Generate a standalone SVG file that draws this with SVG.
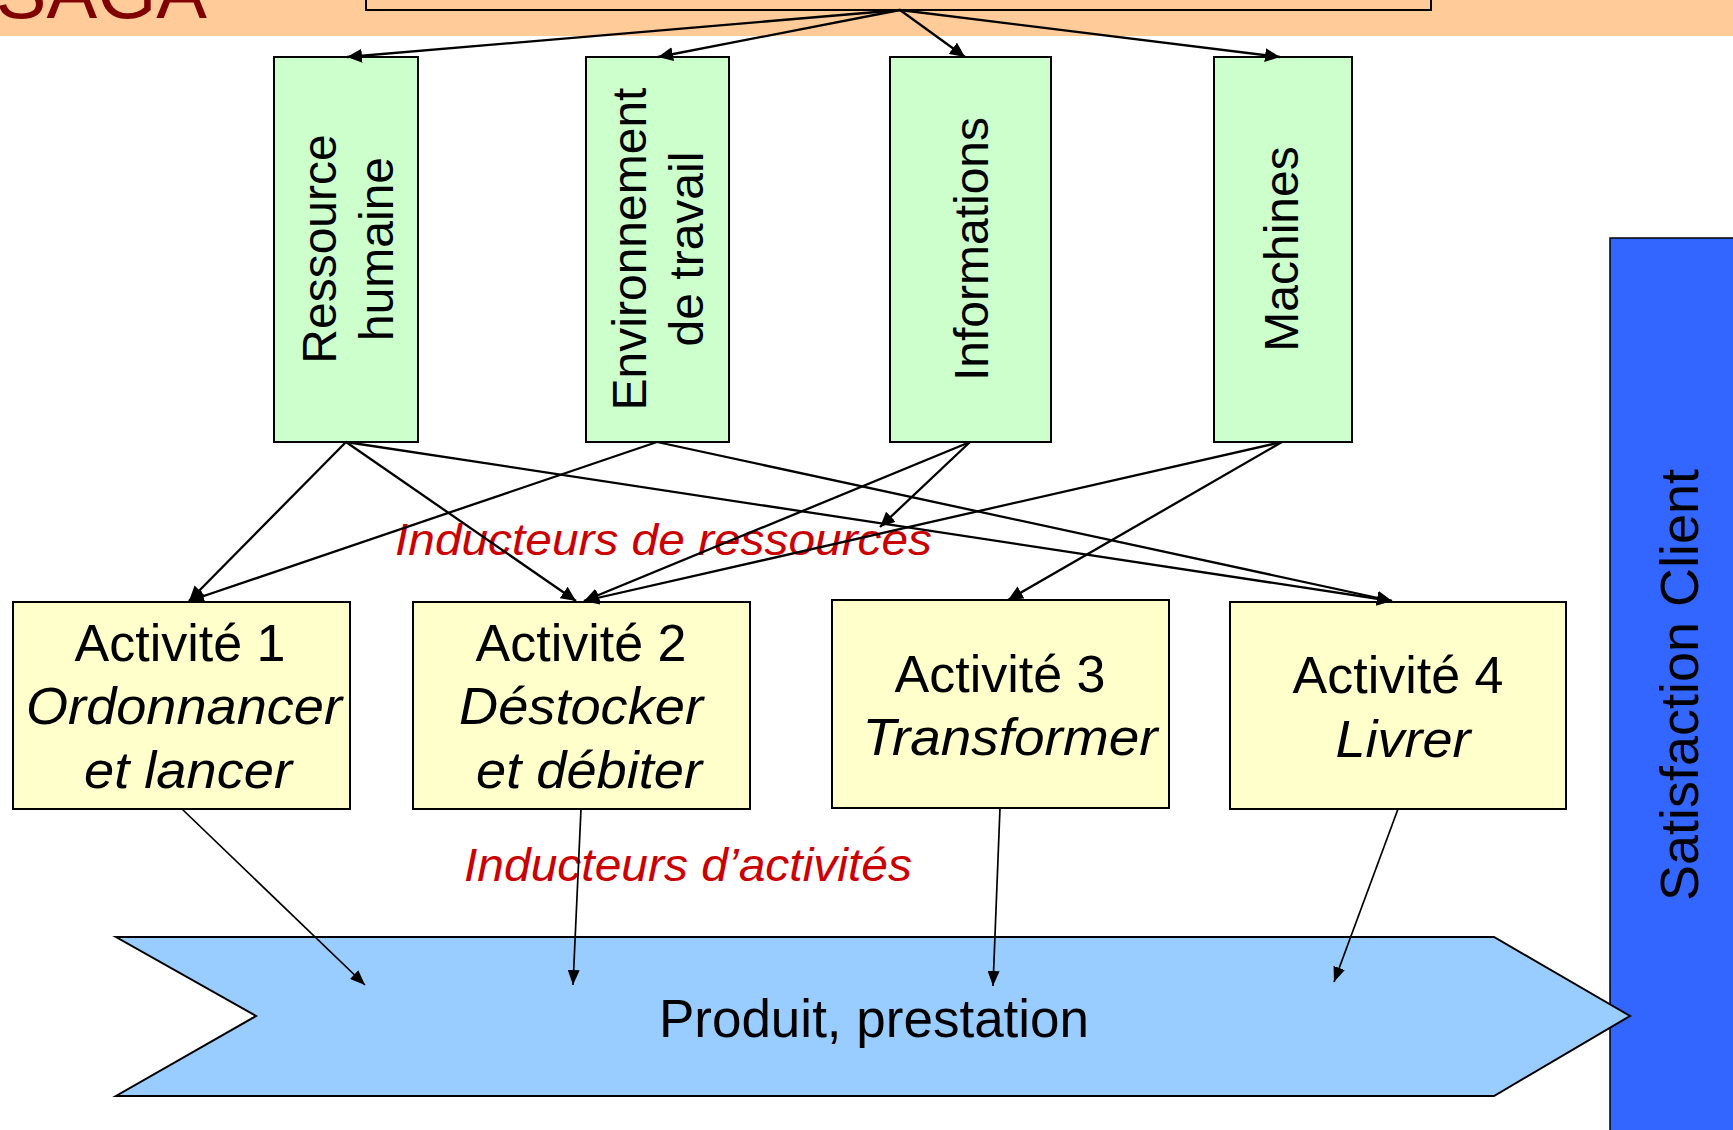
<svg xmlns="http://www.w3.org/2000/svg" width="1733" height="1130" viewBox="0 0 1733 1130">
<style>
.t{font-family:"Liberation Sans",Arial,sans-serif;fill:#000}
.res rect{fill:#ccffcc;stroke:#000;stroke-width:2}
.res text{font-size:48px;text-anchor:middle}
.act rect{fill:#ffffcc;stroke:#000;stroke-width:2}
.act text{font-size:52px;text-anchor:middle}
.it{font-style:italic}
.red{fill:#cc0000;font-style:italic}
.c1{stroke:#000;stroke-width:2.3;fill:none;marker-end:url(#ah)}
.c2{stroke:#000;stroke-width:1.7;fill:none;marker-end:url(#ah2)}
</style>
<defs>
<marker id="ah" markerUnits="userSpaceOnUse" markerWidth="16" markerHeight="14" refX="15" refY="7" orient="auto">
<path d="M0,0 L15,7 L0,14 z" fill="#000"/>
</marker>
<marker id="ah2" markerUnits="userSpaceOnUse" markerWidth="16" markerHeight="12" refX="15" refY="6" orient="auto">
<path d="M0,0 L15,6 L0,12 z" fill="#000"/>
</marker>
</defs>
<rect x="0" y="0" width="1733" height="1130" fill="#fff"/>
<g id="header">
<rect x="0" y="0" width="1733" height="36" fill="#ffcc99"/>
<text class="t" x="207" y="18" font-size="76" text-anchor="end" style="fill:#800000">SAGA</text>
<rect x="366" y="-20" width="1065" height="30" fill="none" stroke="#000" stroke-width="2"/>
</g>
<g id="satisfaction">
<rect x="1610" y="238" width="140" height="900" fill="#3366ff" stroke="#000" stroke-width="1.5"/>
<text class="t" font-size="54" text-anchor="middle" transform="translate(1698,685) rotate(-90)">Satisfaction Client</text>
</g>
<g id="produit">
<polygon points="116,937 1494,937 1630,1016 1494,1096 116,1096 256,1016" fill="#99ccff" stroke="#000" stroke-width="2"/>
<text class="t" x="874" y="1037" font-size="53" text-anchor="middle">Produit, prestation</text>
</g>
<g id="res1" class="res">
<rect x="274" y="57" width="144" height="385"/>
<text class="t" transform="translate(336,249) rotate(-90)">Ressource</text>
<text class="t" transform="translate(393,249) rotate(-90)">humaine</text>
</g>
<g id="res2" class="res">
<rect x="586" y="57" width="143" height="385"/>
<text class="t" transform="translate(646,249) rotate(-90)">Environnement</text>
<text class="t" transform="translate(703,249) rotate(-90)">de travail</text>
</g>
<g id="res3" class="res">
<rect x="890" y="57" width="161" height="385"/>
<text class="t" transform="translate(988,249) rotate(-90)">Informations</text>
</g>
<g id="res4" class="res">
<rect x="1214" y="57" width="138" height="385"/>
<text class="t" transform="translate(1298,249) rotate(-90)">Machines</text>
</g>
<g id="act1" class="act">
<rect x="13" y="602" width="337" height="207"/>
<text class="t" x="180" y="661">Activité 1</text>
<text class="t it" x="184" y="724" textLength="316" lengthAdjust="spacingAndGlyphs">Ordonnancer</text>
<text class="t it" x="188" y="788" textLength="208" lengthAdjust="spacingAndGlyphs">et lancer</text>
</g>
<g id="act2" class="act">
<rect x="413" y="602" width="337" height="207"/>
<text class="t" x="581" y="661">Activité 2</text>
<text class="t it" x="581" y="724" textLength="244" lengthAdjust="spacingAndGlyphs">Déstocker</text>
<text class="t it" x="589" y="788" textLength="226" lengthAdjust="spacingAndGlyphs">et débiter</text>
</g>
<g id="act3" class="act">
<rect x="832" y="600" width="337" height="208"/>
<text class="t" x="1000" y="692">Activité 3</text>
<text class="t it" x="1010" y="755" textLength="295" lengthAdjust="spacingAndGlyphs">Transformer</text>
</g>
<g id="act4" class="act">
<rect x="1230" y="602" width="336" height="207"/>
<text class="t" x="1398" y="693">Activité 4</text>
<text class="t it" x="1403" y="757" textLength="135" lengthAdjust="spacingAndGlyphs">Livrer</text>
</g>
<g id="labels">
<text class="t red" x="395" y="555" font-size="45" textLength="537" lengthAdjust="spacingAndGlyphs">Inducteurs de ressources</text>
<text class="t red" x="464" y="881" font-size="47" textLength="448" lengthAdjust="spacingAndGlyphs">Inducteurs d’activités</text>
</g>
<g id="connectors">
<line class="c1" x1="900" y1="10" x2="347" y2="57"/>
<line class="c1" x1="900" y1="10" x2="658" y2="57"/>
<line class="c1" x1="900" y1="10" x2="965" y2="57"/>
<line class="c1" x1="900" y1="10" x2="1280" y2="57"/>
<line class="c1" x1="346" y1="442" x2="189" y2="601"/>
<line class="c1" x1="346" y1="442" x2="576" y2="601"/>
<line class="c1" x1="346" y1="442" x2="1392" y2="601"/>
<line class="c1" x1="657" y1="442" x2="189" y2="601"/>
<line class="c1" x1="657" y1="442" x2="1392" y2="601"/>
<line class="c1" x1="970" y1="442" x2="584" y2="601"/>
<line class="c1" x1="970" y1="442" x2="880" y2="527"/>
<line class="c1" x1="1282" y1="442" x2="584" y2="601"/>
<line class="c1" x1="1282" y1="442" x2="1008" y2="600"/>
<line class="c2" x1="182" y1="809" x2="365" y2="985"/>
<line class="c2" x1="581" y1="809" x2="573" y2="985"/>
<line class="c2" x1="1000" y1="808" x2="993" y2="986"/>
<line class="c2" x1="1398" y1="809" x2="1334" y2="982"/>
</g>
</svg>
